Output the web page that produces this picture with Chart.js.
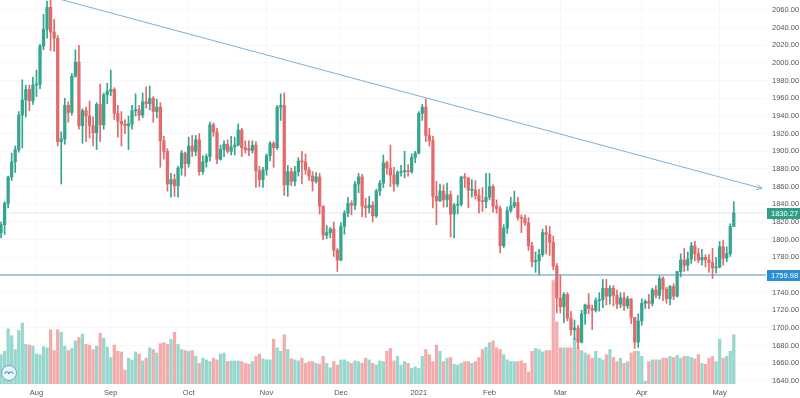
<!DOCTYPE html>
<html>
<head>
<meta charset="utf-8">
<script src="https://cdn.jsdelivr.net/npm/chart.js@4.4.1/dist/chart.umd.min.js"></script>
<style>
  html, body { margin: 0; padding: 0; background: #fff; }
  #wrap { width: 800px; height: 398px; }
</style>
</head>
<body>
<div id="wrap"><canvas id="myChart" width="800" height="398"></canvas></div>
<script>
// daily candles, 2020-07-20 .. 2021-05-07
const dates = [
  '2020-07-20','2020-07-21','2020-07-22','2020-07-23','2020-07-24','2020-07-27','2020-07-28','2020-07-29','2020-07-30','2020-07-31',
  '2020-08-03','2020-08-04','2020-08-05','2020-08-06','2020-08-07','2020-08-10','2020-08-11','2020-08-12','2020-08-13','2020-08-14',
  '2020-08-17','2020-08-18','2020-08-19','2020-08-20','2020-08-21','2020-08-24','2020-08-25','2020-08-26','2020-08-27','2020-08-28','2020-08-31',
  '2020-09-01','2020-09-02','2020-09-03','2020-09-04','2020-09-07','2020-09-08','2020-09-09','2020-09-10','2020-09-11','2020-09-14','2020-09-15',
  '2020-09-16','2020-09-17','2020-09-18','2020-09-21','2020-09-22','2020-09-23','2020-09-24','2020-09-25','2020-09-28','2020-09-29','2020-09-30',
  '2020-10-01','2020-10-02','2020-10-05','2020-10-06','2020-10-07','2020-10-08','2020-10-09','2020-10-12','2020-10-13','2020-10-14','2020-10-15',
  '2020-10-16','2020-10-19','2020-10-20','2020-10-21','2020-10-22','2020-10-23','2020-10-26','2020-10-27','2020-10-28','2020-10-29','2020-10-30',
  '2020-11-02','2020-11-03','2020-11-04','2020-11-05','2020-11-06','2020-11-09','2020-11-10','2020-11-11','2020-11-12','2020-11-13','2020-11-16',
  '2020-11-17','2020-11-18','2020-11-19','2020-11-20','2020-11-23','2020-11-24','2020-11-25','2020-11-26','2020-11-27','2020-11-30',
  '2020-12-01','2020-12-02','2020-12-03','2020-12-04','2020-12-07','2020-12-08','2020-12-09','2020-12-10','2020-12-11','2020-12-14','2020-12-15',
  '2020-12-16','2020-12-17','2020-12-18','2020-12-21','2020-12-22','2020-12-23','2020-12-24','2020-12-28','2020-12-29','2020-12-30','2020-12-31',
  '2021-01-04','2021-01-05','2021-01-06','2021-01-07','2021-01-08','2021-01-11','2021-01-12','2021-01-13','2021-01-14','2021-01-15',
  '2021-01-18','2021-01-19','2021-01-20','2021-01-21','2021-01-22','2021-01-25','2021-01-26','2021-01-27','2021-01-28','2021-01-29',
  '2021-02-01','2021-02-02','2021-02-03','2021-02-04','2021-02-05','2021-02-08','2021-02-09','2021-02-10','2021-02-11','2021-02-12',
  '2021-02-15','2021-02-16','2021-02-17','2021-02-18','2021-02-19','2021-02-22','2021-02-23','2021-02-24','2021-02-25','2021-02-26',
  '2021-03-01','2021-03-02','2021-03-03','2021-03-04','2021-03-05','2021-03-08','2021-03-09','2021-03-10','2021-03-11','2021-03-12','2021-03-15',
  '2021-03-16','2021-03-17','2021-03-18','2021-03-19','2021-03-22','2021-03-23','2021-03-24','2021-03-25','2021-03-26','2021-03-29','2021-03-30','2021-03-31',
  '2021-04-01','2021-04-02','2021-04-05','2021-04-06','2021-04-07','2021-04-08','2021-04-09','2021-04-12','2021-04-13','2021-04-14','2021-04-15',
  '2021-04-16','2021-04-19','2021-04-20','2021-04-21','2021-04-22','2021-04-23','2021-04-26','2021-04-27','2021-04-28','2021-04-29','2021-04-30',
  '2021-05-03','2021-05-04','2021-05-05','2021-05-06','2021-05-07'
];

const opens = [
  1808,1817,1841,1871,1888,1902,1941,1958,1970,1957,
  1975,1976,2019,2038,2063,2035,2028,1911,1914,1952,
  1944,1985,2001,1929,1946,1940,1929,1921,1953,1930,
  1964,1968,1970,1943,1934,1931,1929,1931,1946,1947,
  1941,1956,1954,1960,1945,1950,1912,1900,1863,1868,
  1861,1881,1898,1886,1906,1900,1913,1877,1888,1894,
  1930,1922,1891,1902,1908,1900,1905,1907,1924,1904,
  1903,1901,1907,1878,1868,1879,1895,1909,1904,1950,
  1952,1862,1877,1866,1877,1889,1888,1879,1872,1866,
  1871,1838,1805,1808,1812,1788,1777,1815,1830,1841,
  1839,1863,1871,1838,1836,1839,1827,1855,1864,1887,
  1881,1873,1863,1876,1877,1878,1877,1893,1898,1943,
  1950,1918,1912,1849,1844,1855,1845,1851,1829,1839,
  1840,1871,1870,1856,1856,1850,1844,1843,1848,1860,
  1838,1835,1793,1813,1833,1838,1842,1825,1824,1819,
  1793,1775,1776,1783,1808,1806,1797,1770,1734,1724,
  1738,1711,1698,1700,1684,1716,1726,1722,1720,1731,
  1732,1745,1736,1745,1737,1727,1734,1725,1733,1712,
  1684,1708,1728,1730,1728,1743,1737,1756,1744,1733,
  1747,1736,1764,1777,1771,1778,1793,1784,1777,1780,
  1777,1774,1768,1769,1792,1779,1784,1815
];

const highs = [
  1820,1843,1872,1898,1906,1945,1981,1975,1975,1984,
  1992,2021,2055,2070,2075,2049,2031,1922,1960,1956,
  1988,2015,2020,1948,1950,1957,1939,1955,1976,1966,
  1977,1992,1972,1952,1945,1936,1940,1952,1965,1952,
  1966,1973,1974,1962,1959,1955,1917,1903,1875,1874,
  1883,1901,1899,1916,1918,1918,1920,1895,1897,1933,
  1932,1926,1907,1912,1913,1917,1916,1931,1926,1912,
  1912,1912,1911,1883,1882,1897,1911,1911,1952,1965,
  1966,1884,1881,1883,1893,1900,1897,1882,1877,1876,
  1875,1838,1816,1814,1820,1790,1819,1833,1848,1844,
  1866,1875,1874,1847,1849,1843,1857,1867,1896,1889,
  1907,1882,1878,1884,1900,1885,1897,1900,1945,1953,
  1959,1926,1917,1866,1863,1862,1864,1855,1841,1850,
  1872,1875,1870,1868,1867,1857,1859,1875,1875,1862,
  1845,1838,1817,1837,1848,1855,1848,1828,1828,1825,
  1797,1786,1789,1812,1816,1815,1804,1773,1760,1740,
  1740,1719,1709,1703,1720,1727,1739,1726,1734,1740,
  1755,1755,1748,1748,1743,1740,1740,1736,1733,1712,
  1716,1733,1732,1738,1745,1748,1759,1758,1746,1748,
  1750,1764,1784,1790,1786,1797,1798,1790,1789,1783,
  1783,1790,1780,1798,1799,1792,1818,1843
];

const lows = [
  1802,1806,1836,1867,1876,1899,1904,1939,1946,1953,
  1962,1971,2015,2028,2014,2013,1906,1863,1908,1933,
  1941,1984,1925,1909,1911,1915,1906,1902,1911,1925,
  1954,1963,1936,1916,1906,1920,1902,1925,1940,1935,
  1938,1949,1947,1933,1938,1882,1891,1855,1848,1849,
  1848,1873,1872,1882,1894,1895,1873,1874,1882,1889,
  1917,1886,1890,1894,1898,1896,1896,1906,1894,1898,
  1895,1898,1859,1860,1859,1873,1889,1882,1902,1935,
  1850,1849,1861,1861,1872,1863,1874,1867,1855,1864,
  1829,1800,1801,1802,1781,1764,1776,1806,1826,1828,
  1834,1853,1826,1825,1830,1820,1825,1850,1859,1874,
  1860,1855,1860,1872,1870,1872,1875,1887,1897,1935,
  1911,1906,1836,1817,1843,1837,1837,1803,1802,1829,
  1838,1859,1836,1848,1846,1830,1832,1836,1845,1831,
  1830,1785,1791,1807,1831,1836,1822,1808,1816,1788,
  1769,1763,1760,1781,1784,1782,1766,1717,1717,1706,
  1708,1692,1687,1677,1683,1704,1716,1698,1718,1719,
  1723,1726,1727,1725,1722,1723,1720,1722,1705,1677,
  1678,1703,1722,1722,1725,1734,1733,1731,1728,1726,
  1732,1735,1758,1764,1765,1773,1776,1774,1771,1769,
  1763,1756,1762,1768,1771,1775,1781,1815
];

const closes = [
  1817,1841,1871,1888,1902,1941,1958,1970,1957,1975,
  1976,2019,2038,2063,2035,2028,1911,1914,1952,1944,
  1985,2001,1929,1946,1940,1929,1921,1953,1930,1964,
  1968,1970,1943,1934,1931,1929,1931,1946,1947,1941,
  1956,1954,1960,1945,1950,1912,1900,1863,1868,1861,
  1881,1898,1886,1906,1900,1913,1877,1888,1894,1930,
  1922,1891,1902,1908,1900,1905,1907,1924,1904,1902,
  1901,1907,1878,1868,1879,1895,1909,1904,1950,1952,
  1862,1877,1866,1877,1889,1888,1879,1872,1866,1871,
  1838,1805,1808,1812,1788,1777,1815,1830,1841,1839,
  1863,1871,1838,1836,1839,1827,1855,1864,1887,1881,
  1873,1863,1876,1877,1878,1877,1893,1898,1943,1950,
  1918,1912,1849,1844,1855,1845,1851,1829,1839,1840,
  1871,1870,1856,1856,1850,1844,1843,1848,1860,1838,
  1835,1793,1813,1833,1838,1842,1825,1824,1819,1793,
  1775,1776,1783,1808,1806,1797,1770,1734,1724,1738,
  1711,1698,1700,1684,1716,1726,1722,1720,1731,1732,
  1745,1736,1745,1737,1727,1734,1725,1733,1712,1684,
  1708,1728,1730,1728,1743,1737,1756,1744,1733,1747,
  1736,1764,1777,1771,1778,1793,1784,1777,1780,1777,
  1774,1768,1769,1792,1779,1784,1815,1830.27
];

const volumes = [
  85,95,160,140,100,155,177,115,113,110,
  87,85,108,105,157,97,157,150,110,97,
  103,125,135,145,115,113,100,110,147,133,
  107,77,113,95,93,40,75,70,93,87,
  67,75,105,100,90,117,120,115,130,150,
  115,100,97,95,97,80,60,75,70,65,
  75,70,87,90,65,67,67,67,65,60,
  57,65,80,87,73,70,70,130,105,95,
  143,100,73,70,67,75,60,65,65,60,
  57,80,60,47,65,55,70,70,65,60,
  67,65,60,75,70,60,55,67,65,95,
  103,67,80,55,65,60,45,50,45,80,
  100,85,65,113,95,65,75,77,57,55,
  60,65,65,60,65,77,100,107,120,125,
  105,100,85,70,65,65,65,67,60,35,
  95,103,100,93,97,97,300,180,105,105,
  105,105,133,105,97,90,85,75,95,75,
  70,85,100,77,65,75,60,65,90,95,
  95,80,8,65,70,70,70,75,75,80,
  77,83,75,80,80,77,73,85,60,57,
  75,80,65,130,75,80,95,143
];

// month labels shown on the time axis (one per month change)
const monthLabels = ['Aug', 'Sep', 'Oct', 'Nov', 'Dec', '2021', 'Feb', 'Mar', 'Apr', 'May'];

// drawn lines: falling trend line (candle index, price) and the support level
const trendIdx = [14, 215];
const trendPrice = [2075, 1858];
const supportLevel = 1759.98;

const UP = '#35a58e';
const DOWN = '#e26a6a';
const UP_VOL = '#98d7cd';
const DOWN_VOL = '#f4abab';

// first candle index of each month after the first one
const monthStarts = [];
for (let i = 1; i < dates.length; i++) {
  if (dates[i].slice(0, 7) !== dates[i - 1].slice(0, 7)) monthStarts.push(i);
}

const isUp = closes.map((c, i) => c >= opens[i]);
const lastIdx = closes.length - 1;
const lastClose = closes[lastIdx];

const bodies = opens.map((o, i) => ({ x: i, y: [o, closes[i]] }));
const wicks = lows.map((l, i) => ({ x: i, y: [l, highs[i]] }));
const vols = volumes.map((v, i) => ({ x: i, y: v }));

const X_MIN = -0.3;
const X_MAX = 216.1;

const axisFont = { family: '"Liberation Sans", Arial, sans-serif', size: 7.5 };

const overlay = {
  id: 'overlay',
  afterDraw(chart) {
    const { ctx, chartArea, scales } = chart;
    const x = scales.x, y = scales.y;
    ctx.save();

    // arrow head at the end of the trend line
    const x1 = x.getPixelForValue(trendIdx[0]), y1 = y.getPixelForValue(trendPrice[0]);
    const x2 = x.getPixelForValue(trendIdx[1]), y2 = y.getPixelForValue(trendPrice[1]);
    const ang = Math.atan2(y2 - y1, x2 - x1);
    ctx.strokeStyle = '#7cb0dc';
    ctx.lineWidth = 1;
    ctx.beginPath();
    ctx.moveTo(x2 - 6 * Math.cos(ang - 0.45), y2 - 6 * Math.sin(ang - 0.45));
    ctx.lineTo(x2, y2);
    ctx.lineTo(x2 - 6 * Math.cos(ang + 0.45), y2 - 6 * Math.sin(ang + 0.45));
    ctx.stroke();

    // price tags on the right axis
    const tag = (value, bg) => {
      const py = Math.round(y.getPixelForValue(value));
      ctx.fillStyle = bg;
      ctx.fillRect(chartArea.right + 1, py - 5, 33, 11);
      ctx.fillStyle = '#fff';
      ctx.font = '7.5px "Liberation Sans", Arial, sans-serif';
      ctx.textAlign = 'left';
      ctx.textBaseline = 'middle';
      ctx.fillText(value.toFixed(2), chartArea.right + 5, py + 0.5);
    };
    tag(lastClose, '#2f9f89');
    tag(supportLevel, '#2b8fd6');

    // small round logo bottom-left
    ctx.beginPath();
    ctx.arc(chartArea.left + 9, chartArea.bottom - 11, 7.5, 0, Math.PI * 2);
    ctx.fillStyle = '#eaf4fb';
    ctx.fill();
    ctx.strokeStyle = '#6aa6cf';
    ctx.stroke();
    ctx.beginPath();
    ctx.arc(chartArea.left + 7, chartArea.bottom - 10, 2.2, Math.PI, 0);
    ctx.arc(chartArea.left + 11, chartArea.bottom - 10, 2.2, Math.PI, 0);
    ctx.strokeStyle = '#3d8cc4';
    ctx.stroke();
    ctx.restore();
  }
};

const ctx = document.getElementById('myChart').getContext('2d');
new Chart(ctx, {
  type: 'bar',
  data: {
    datasets: [
      {
        type: 'line',
        data: [{ x: trendIdx[0], y: trendPrice[0] }, { x: trendIdx[1], y: trendPrice[1] }],
        borderColor: '#7cb0dc',
        borderWidth: 1,
        pointRadius: 0,
        order: 1,
        yAxisID: 'y',
      },
      {
        type: 'line',
        data: [{ x: X_MIN, y: supportLevel }, { x: X_MAX, y: supportLevel }],
        borderColor: '#5f93be',
        borderWidth: 1,
        pointRadius: 0,
        order: 1,
        yAxisID: 'y',
      },
      {
        type: 'line',
        data: [{ x: X_MIN, y: lastClose }, { x: X_MAX, y: lastClose }],
        borderColor: '#e2e6ea',
        borderWidth: 1,
        pointRadius: 0,
        order: 7,
        yAxisID: 'y',
      },
      {
        data: bodies,
        backgroundColor: isUp.map(u => (u ? UP : DOWN)),
        borderWidth: 0,
        barThickness: 2.6,
        minBarLength: 1,
        grouped: false,
        order: 2,
        yAxisID: 'y',
      },
      {
        data: wicks,
        backgroundColor: isUp.map(u => (u ? UP : DOWN)),
        borderWidth: 0,
        barThickness: 1,
        grouped: false,
        order: 3,
        yAxisID: 'y',
      },
      {
        data: vols,
        backgroundColor: isUp.map(u => (u ? UP_VOL : DOWN_VOL)),
        borderWidth: 0,
        barThickness: 2.6,
        grouped: false,
        order: 6,
        yAxisID: 'yVol',
      },
    ],
  },
  options: {
    responsive: false,
    animation: false,
    devicePixelRatio: 1,
    layout: { padding: 0, autoPadding: false },
    plugins: { legend: { display: false }, tooltip: { enabled: false } },
    scales: {
      x: {
        type: 'linear',
        min: X_MIN,
        max: X_MAX,
        offset: false,
        afterBuildTicks: (scale) => { scale.ticks = monthStarts.map(i => ({ value: i })); },
        afterFit: (scale) => { scale.height = 14; scale.paddingLeft = 0; scale.paddingRight = 0; },
        ticks: {
          autoSkip: false,
          maxRotation: 0,
          padding: 4,
          color: '#555',
          font: axisFont,
          callback: (v) => {
            const k = monthStarts.indexOf(v);
            return k >= 0 ? monthLabels[k] : '';
          },
        },
        grid: { offset: false, color: 'rgba(0,0,0,0.03)', drawTicks: false },
        border: { display: false },
      },
      y: {
        position: 'right',
        min: 1636.6,
        max: 2071.3,
        afterFit: (scale) => { scale.width = 34; scale.paddingTop = 0; scale.paddingBottom = 0; },
        ticks: {
          stepSize: 20,
          includeBounds: false,
          padding: 6,
          color: '#555',
          font: axisFont,
          callback: (v) => v.toFixed(2),
        },
        grid: { color: 'rgba(0,0,0,0.03)', drawTicks: false },
        border: { display: false },
      },
      yVol: {
        display: false,
        min: 0,
        max: 1114,
      },
    },
  },
  plugins: [overlay],
});
</script>
</body>
</html>
